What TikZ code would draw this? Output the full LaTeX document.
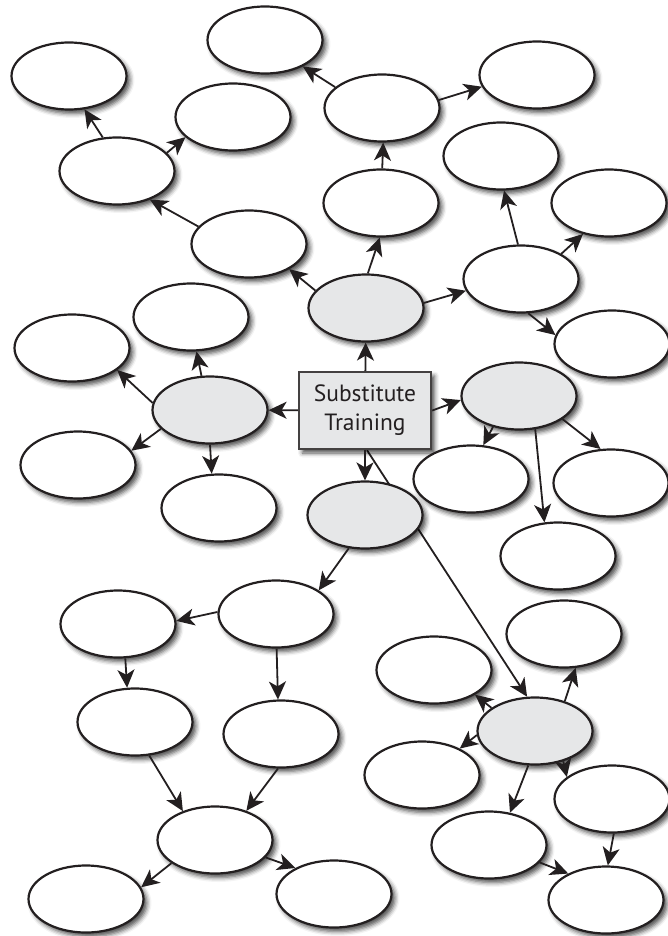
\documentclass[tikz,border=0pt]{standalone}
\usepackage{fontspec}
\setmainfont{PT Sans}
\usetikzlibrary{shapes.geometric,arrows.meta,shadows.blur,backgrounds}
\definecolor{ink}{HTML}{231F20}
\definecolor{hub}{HTML}{E6E7E8}
\tikzset{
  shad/.style={blur shadow={shadow xshift=3.5pt,shadow yshift=-4pt,shadow blur radius=4.5pt,shadow opacity=70}},
  oval/.style={ellipse,draw=ink,line width=2.2pt,fill=white,minimum width=115pt,minimum height=67pt,inner sep=0pt,shad},
  huboval/.style={oval,fill=hub},
  centerbox/.style={rectangle,draw=ink!85,line width=2.4pt,fill=hub,minimum width=132pt,minimum height=77pt,inner sep=0pt,shad,align=center,text=ink,font=\fontsize{23.5}{29}\selectfont},
  arr/.style={draw=ink,line width=1.8pt,-{Stealth[length=18pt,width=17pt,inset=5pt]}}
}
\begin{document}
\begin{tikzpicture}[x=1pt,y=-1pt]
\useasboundingbox (0,0) rectangle (667,936);
% nodes
\node[oval] (n1) at (69,76) {};
\node[oval] (n2) at (265,40) {};
\node[oval] (n3) at (233,117) {};
\node[oval] (n4) at (117,171) {};
\node[oval] (n5) at (382,108) {};
\node[oval] (n6) at (537,75) {};
\node[oval] (n7) at (501,156) {};
\node[oval] (n8) at (381,203) {};
\node[oval] (n9) at (249,244) {};
\node[oval] (n10) at (609,203) {};
\node[oval] (n11) at (521,279) {};
\node[huboval] (g1) at (366,308) {};
\node[oval] (n12) at (612,344) {};
\node[oval] (n13) at (191,317) {};
\node[oval] (n14) at (72,348) {};
\node[huboval] (g2) at (210,410) {};
\node[centerbox] (box) at (365,410.5) {Substitute\\Training};
\node[huboval] (g3) at (519,396) {};
\node[oval] (n15) at (78,465) {};
\node[oval] (n16) at (219,508) {};
\node[oval] (n17) at (471,479) {};
\node[oval] (n18) at (611,483) {};
\node[huboval] (g4) at (365,515) {};
\node[oval] (n19) at (558,556) {};
\node[oval] (n20) at (276,614) {};
\node[oval] (n21) at (118,624) {};
\node[oval] (n22) at (564,634) {};
\node[oval] (n23) at (434,670) {};
\node[oval] (n24) at (135,722) {};
\node[oval] (n25) at (281,734) {};
\node[huboval] (g5) at (535,731) {};
\node[oval] (n26) at (422,775) {};
\node[oval] (n27) at (612,799) {};
\node[oval] (n28) at (215,840) {};
\node[oval] (n29) at (489,845) {};
\node[oval] (n30) at (86,899) {};
\node[oval] (n31) at (334,894) {};
\node[oval] (n32) at (606,900) {};
% long connector behind g4
\begin{scope}[on background layer]
\draw[arr] ([xshift=2pt]box.south) -- (g5.103);
\end{scope}
% connectors
\draw[arr] (g1.161) -- (n9.328);
\draw[arr] (g1.87) -- (n8.268);
\draw[arr] (g1.5) -- (n11.192);
\draw[arr] (n11.95) -- (n7.275);
\draw[arr] (n11.32) -- (n10.230);
\draw[arr] (n11.282) -- (n12.171);
\draw[arr] (n8.88) -- (n5.272);
\draw[arr] (n5.156) -- (n2.325);
\draw[arr] (n5.8) -- (n6.192);
\draw[arr] (n9.161) -- (n4.319);
\draw[arr] (n4.113) -- (n1.295);
\draw[arr] (n4.20) -- (n3.203);
\draw[arr] (box) -- (g1);
\draw[arr] (box) -- (g2);
\draw[arr] (box.east) -- (g3.184);
\draw[arr] (box) -- (g4);
\draw[arr] (g2.104) -- (n13.279);
\draw[arr] (g2.173) -- (n14.334);
\draw[arr] (g2.201) -- (n15.15);
\draw[arr] (g2.270) -- (n16.102);
\draw[arr] (g3.230) -- (n17.70);
\draw[arr] (g3.332) -- (n18.107);
\draw[arr] (g3.296) -- (n19.112);
\draw[arr] (g4.244) -- (n20.29);
\draw[arr] (n20.178) -- (n21.3);
\draw[arr] (n21.282) -- (n24.103);
\draw[arr] (n20.271) -- (n25.95);
\draw[arr] (n24.293) -- (n28.138);
\draw[arr] (n25.265) -- (n28.43);
\draw[arr] (n28.208) -- (n30.12);
\draw[arr] (n28.341) -- (n31.146);
\draw[arr] (g5.45) -- (n22.289);
\draw[arr] (g5.152) -- (n23.329);
\draw[arr] (g5.184) -- (n26.35);
\draw[arr] (g5.259) -- (n29.57);
\draw[arr] (g5.313) -- (n27.154);
\draw[arr] (n29.341) -- (n32.145);
\draw[arr] (n27.273) -- (n32.87);
\end{tikzpicture}
\end{document}
